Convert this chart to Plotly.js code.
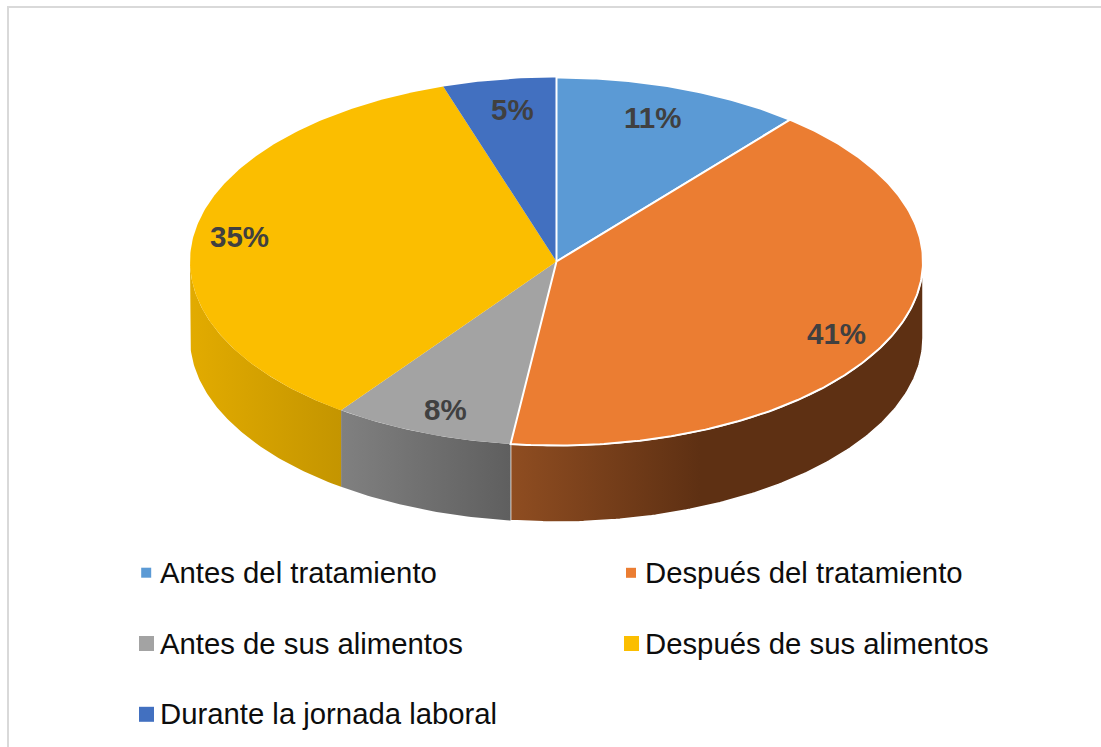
<!DOCTYPE html>
<html>
<head>
<meta charset="utf-8">
<script src="https://cdn.plot.ly/plotly-3.0.1.min.js"></script>
<style>html,body{margin:0;padding:0;background:#fff;overflow:hidden}#chart{width:1101px;height:747px}</style>
</head>
<body>
<div id="chart"></div>
<script>
// Data
const categories = ["Antes del tratamiento","Después del tratamiento","Antes de sus alimentos","Después de sus alimentos","Durante la jornada laboral"];
const values = [11,41,8,35,5];
const labels = ["11%","41%","8%","35%","5%"];

// Styles
const topColors = ["#5B9AD5","#EB7D32","#A3A3A3","#FBBE00","#4270C0"];
const edgeLines = ["#ffffff","#ffffff",null,null,null];
const wallScales = [null,[[0,"#8F4D21"],[1,"#5E3013"]],[[0,"#808080"],[1,"#5F5F5F"]],[[0,"#E2AB00"],[1,"#C49500"]],null];
const drawOrder = [2,3,4,0,1];

// Layout in pixels
const W=1101,H=747,CX=556.5,CY=261.5,RX=366.5,RY=184,DEPTH=76.5;
const px=x=>(x-CX)/RX, py=y=>(CY-y)/RY;
const labelPix=[[652.5,117],[836.5,333],[445.5,409],[239.5,236],[512,109]];
const legendPix=[[146.2,572.7],[631,572.8],[146.5,643.5],[631.5,643.5],[146.5,714.3]];
const legendText=[[158.5,572],[643.5,572],[158.5,643],[643.5,643],[158.5,713]];
const markerSize=[10,10,15,15,15];

const total=values.reduce((a,b)=>a+b,0);
const TAU=2*Math.PI;
function arc(a0,a1,dy){const n=Math.max(2,Math.ceil(Math.abs(a1-a0)*90));const xs=[],ys=[];
  for(let i=0;i<=n;i++){const a=a0+(a1-a0)*i/n;xs.push(Math.sin(a));ys.push(Math.cos(a)-dy);}
  return [xs,ys];}

const traces=[];
const d=DEPTH/RY;
let acc=0;const spans=values.map(v=>{const s=[acc/total*TAU,(acc+v)/total*TAU];acc+=v;return s;});

// side walls
spans.forEach((s,i)=>{
  const a0=Math.max(s[0],Math.PI/2),a1=Math.min(s[1],1.5*Math.PI);
  if(a1<=a0||!wallScales[i])return;
  const [xt,yt]=arc(a0,a1,0),[xb,yb]=arc(a1,a0,d);
  let start=Math.sin(a1),stop=Math.sin(a0);
  if(i===1){start=Math.sin(s[1]);stop=px(700);}
  traces.push({x:xt.concat(xb,[xt[0]]),y:yt.concat(yb,[yt[0]]),mode:'lines',fill:'toself',
    line:{width:edgeLines[i]?1.5:0,color:edgeLines[i]||'rgba(0,0,0,0)'},
    fillgradient:{type:'horizontal',colorscale:wallScales[i],start:start,stop:stop},
    hoverinfo:'skip',showlegend:false,name:categories[i]});
});
// top slices
drawOrder.forEach(i=>{
  const s=spans[i];
  const [x,y]=arc(s[0],s[1],0);
  traces.push({x:[0].concat(x,[0]),y:[0].concat(y,[0]),mode:'lines',fill:'toself',fillcolor:topColors[i],
    line:{width:edgeLines[i]?2:0,color:edgeLines[i]||'rgba(0,0,0,0)'},
    name:categories[i],text:labels[i],hoverinfo:'name+text',showlegend:false});
});
// legend swatches
traces.push({x:legendPix.map(p=>px(p[0])),y:legendPix.map(p=>py(p[1])),mode:'markers',
  marker:{symbol:'square',size:markerSize,color:topColors,opacity:1,line:{width:0}},
  hoverinfo:'skip',showlegend:false});

const annotations=[];
labels.forEach((t,i)=>annotations.push({x:px(labelPix[i][0]),y:py(labelPix[i][1]),text:t,showarrow:false,
  xanchor:'center',yanchor:'middle',borderpad:0,font:{family:'Liberation Sans, Arial, sans-serif',size:29.5,color:'#404040',weight:700}}));
categories.forEach((t,i)=>annotations.push({x:px(legendText[i][0]),y:py(legendText[i][1]),text:t,showarrow:false,
  xanchor:'left',yanchor:'middle',borderpad:0,font:{family:'Liberation Sans, Arial, sans-serif',size:29.3,color:'#0D0D0D'}}));

const hiddenAxis=r=>({range:r,visible:false,fixedrange:true,showgrid:false,zeroline:false});
const layout={width:W,height:H,margin:{l:0,r:0,t:0,b:0,pad:0},paper_bgcolor:'#fff',plot_bgcolor:'#fff',showlegend:false,
  xaxis:hiddenAxis([px(0),px(W)]),yaxis:hiddenAxis([py(H),py(0)]),annotations:annotations,
  shapes:[
   {type:'line',xref:'paper',yref:'paper',x0:8/W,x1:8/W,y0:0,y1:1-7/H,line:{color:'#D9D9D9',width:2}},
   {type:'line',xref:'paper',yref:'paper',x0:7/W,x1:1,y0:1-7/H,y1:1-7/H,line:{color:'#D9D9D9',width:2}}
  ]};
Plotly.newPlot('chart',traces,layout,{displayModeBar:false,staticPlot:true});
</script>
</body>
</html>
